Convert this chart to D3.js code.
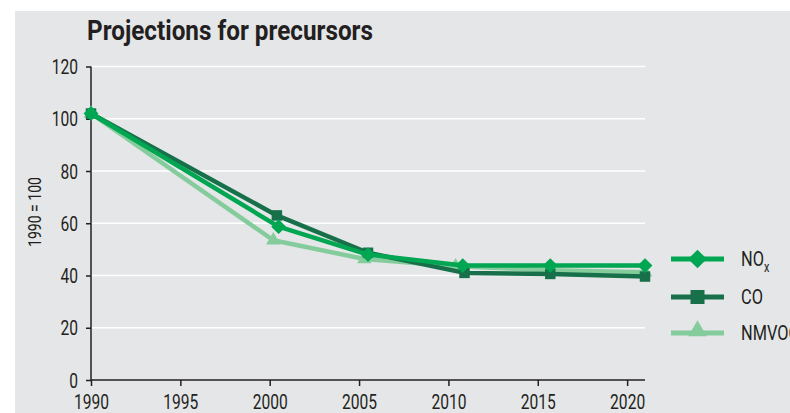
<!DOCTYPE html>
<html><head><meta charset="utf-8">
<script src="https://cdn.jsdelivr.net/npm/d3@7"></script>
<style>
body{margin:0;background:#fff;}
svg text{font-family:Roboto,"Liberation Sans",sans-serif;fill:#231f20;}
</style></head><body>
<svg id="c" width="790" height="413"></svg>
<script>
const title = "Projections for precursors";
const yLabel = "1990 = 100";
const xTicks = [1990, 1995, 2000, 2005, 2010, 2015, 2020];
const yTicks = [0, 20, 40, 60, 80, 100, 120];
const seriesNames = ["NOx", "CO", "NMVOC"];
// x positions (fractional years)
const noxYears   = [1990, 2000.5, 2005.5, 2010.8, 2015.7, 2021];
const noxValues  = [102, 58.7, 48, 43.8, 43.8, 43.8];
const coYears    = [1990, 2000.4, 2005.5, 2010.9, 2015.7, 2021];
const coValues   = [102, 63, 48.7, 41, 40.6, 39.6];
const nmvocYears = [1990, 2000.2, 2005.3, 2010.4, 2015.7, 2021];
const nmvocValues= [102, 53.5, 46.3, 43.5, 42, 41.2];

const colors = {NOx:"#00a651", CO:"#17704a", NMVOC:"#84cc9c"};
const SX = 0.78;

const svg = d3.select("#c");
svg.append("rect").attr("x",15).attr("y",11).attr("width",775).attr("height",402).attr("fill","#e5e6e8");

const x = d3.scaleLinear().domain([1990, 2021]).range([91, 645]);
const y = d3.scaleLinear().domain([0, 120]).range([380, 66.5]);

// grid
svg.append("g").selectAll("line").data(yTicks.filter(d=>d>0)).join("line")
  .attr("x1",91).attr("x2",645).attr("y1",d=>y(d)).attr("y2",d=>y(d))
  .attr("stroke","#fff").attr("stroke-width",1.5);

svg.append("text").attr("x",87).attr("y",40).text(title)
  .style("font-size","28px").style("font-weight","bold").attr("textLength",286).attr("lengthAdjust","spacingAndGlyphs");

const yAxis = svg.append("g").attr("transform","translate(91,0)")
  .call(d3.axisLeft(y).tickValues(yTicks).tickSize(5).tickPadding(8));
const xAxis = svg.append("g").attr("transform","translate(0,380)")
  .call(d3.axisBottom(x).tickValues(xTicks).tickFormat(d3.format("d")).tickSize(6).tickPadding(3));
[yAxis,xAxis].forEach(a=>{
  a.select(".domain").attr("stroke","#231f20").attr("stroke-width",1.5);
  a.selectAll(".tick line").attr("stroke","#231f20").attr("stroke-width",1.5);
  a.selectAll(".tick text").style("font-size","20px").attr("fill","#231f20")
    .attr("font-family","Roboto");
});
yAxis.select(".domain").attr("d","M0,66.5V380");
xAxis.select(".domain").attr("d","M91,0H645");
yAxis.selectAll(".tick text").attr("x",-13/SX).attr("dy","0.36em").attr("transform",`scale(${SX},1)`);
xAxis.selectAll(".tick text").attr("y",29).attr("dy",0).attr("transform",`scale(${SX},1)`);

svg.append("text").attr("transform",`translate(41,212) rotate(-90) scale(${SX},1)`).attr("text-anchor","middle")
  .text(yLabel).style("font-size","18px");

const data = [
  {name:"NMVOC", years:nmvocYears, values:nmvocValues, shape:"triangle"},
  {name:"CO", years:coYears, values:coValues, shape:"square"},
  {name:"NOx", years:noxYears, values:noxValues, shape:"diamond"}
];
// square diamond (rotated square): size = area
const rotSquare = {draw(ctx, size){ const r = Math.sqrt(size/2); ctx.moveTo(0,-r); ctx.lineTo(r,0); ctx.lineTo(0,r); ctx.lineTo(-r,0); ctx.closePath(); }};
const sym = {triangle:d3.symbolTriangle, square:d3.symbolSquare, diamond:rotSquare};
const size = {triangle:90, square:110, diamond:110};
const line = d3.line().x(d=>x(d[0])).y(d=>y(d[1]));
data.forEach(s=>{
  const pts = s.years.map((yr,i)=>[yr, s.values[i]]);
  svg.append("path").datum(pts).attr("d",line).attr("fill","none")
    .attr("stroke",colors[s.name]).attr("stroke-width",4.5).attr("stroke-linejoin","round");
  svg.append("g").selectAll("path").data(pts).join("path")
    .attr("transform",d=>`translate(${x(d[0])},${y(d[1])})`)
    .attr("d",d3.symbol().type(sym[s.shape]).size(size[s.shape])).attr("fill",colors[s.name]);
});

// legend
const leg = [
  {name:"NOx", shape:"diamond", yy:259},
  {name:"CO", shape:"square", yy:297},
  {name:"NMVOC", shape:"triangle", yy:333}
];
const legSize = {triangle:150, square:196, diamond:175};
leg.forEach(l=>{
  const g = svg.append("g");
  g.append("line").attr("x1",671).attr("x2",724).attr("y1",l.yy).attr("y2",l.yy)
    .attr("stroke",colors[l.name]).attr("stroke-width",5);
  g.append("path").attr("transform",`translate(697.5,${l.yy - (l.shape==="triangle"?2:0)})`)
    .attr("d",d3.symbol().type(sym[l.shape]).size(legSize[l.shape])).attr("fill",colors[l.name]);
  const t = g.append("text").attr("x",741/SX).attr("y",l.yy+7.5).attr("transform",`scale(${SX},1)`)
    .style("font-size","21px");
  if(l.name==="NOx"){
    t.append("tspan").text("NO");
    t.append("tspan").text("x").attr("dy",6).style("font-size","14px");
  } else t.text(l.name);
});
</script></body></html>
